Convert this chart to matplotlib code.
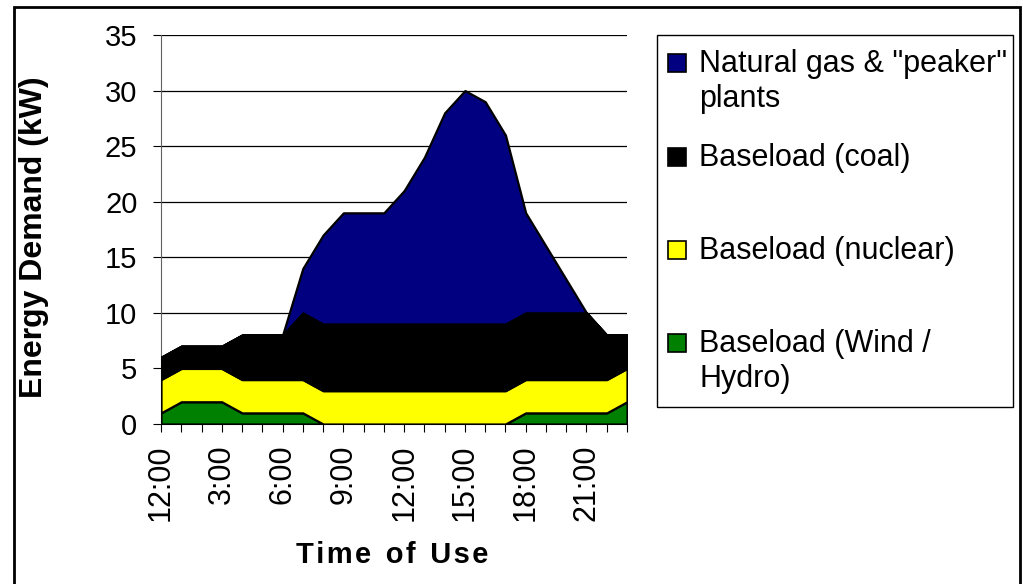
import matplotlib
matplotlib.use("Agg")
import matplotlib.pyplot as plt
from matplotlib.patches import Rectangle

plt.rcParams['font.family'] = ['Liberation Sans', 'DejaVu Sans']

# -----------------------------
# Data (kW per hour of day)
# -----------------------------
hours = list(range(24))
hour_labels = ["12:00", "3:00", "6:00", "9:00", "12:00", "15:00", "18:00", "21:00"]

wind_hydro = [1, 2, 2, 2, 1, 1, 1, 1, 0, 0, 0, 0, 0, 0, 0, 0, 0, 0, 1, 1, 1, 1, 1, 2]
nuclear    = [3, 3, 3, 3, 3, 3, 3, 3, 3, 3, 3, 3, 3, 3, 3, 3, 3, 3, 3, 3, 3, 3, 3, 3]
coal       = [2, 2, 2, 2, 4, 4, 4, 6, 6, 6, 6, 6, 6, 6, 6, 6, 6, 6, 6, 6, 6, 6, 4, 3]
gas        = [0, 0, 0, 0, 0, 0, 0, 4, 8, 10, 10, 10, 12, 15, 19, 21, 20, 17, 9, 6, 3, 0, 0, 0]

series_names = ["Natural gas & \"peaker\"\nplants", "Baseload (coal)",
                "Baseload (nuclear)", "Baseload (Wind /\nHydro)"]
series_colors = ["#000080", "#000000", "#FFFF00", "#008000"]

# -----------------------------
# Figure
# -----------------------------
fig = plt.figure(figsize=(10.23, 5.84), dpi=100)
ax = fig.add_axes([161 / 1023, 1 - 424 / 584, 466 / 1023, 389 / 584])

ax.stackplot(hours, wind_hydro, nuclear, coal, gas,
             colors=series_colors[::-1], edgecolor="black", linewidth=1.6, zorder=3)

ax.set_xlim(0, 23)
ax.set_ylim(0, 35)
ax.set_yticks(range(0, 36, 5))
ax.set_xticks(hours)
ax.set_xticklabels([hour_labels[h // 3] if h % 3 == 0 else "" for h in hours],
                   rotation=90, fontsize=22)
ax.tick_params(axis="y", labelsize=21, length=6, width=0.8, pad=11)
ax.tick_params(axis="x", length=5.5, width=0.8, pad=9)
ax.yaxis.grid(True, color="black", linewidth=0.9, zorder=1)
ax.set_axisbelow(True)
for side in ["top", "right"]:
    ax.spines[side].set_visible(False)
ax.spines["left"].set_color("#606060")
ax.spines["bottom"].set_color("#606060")

fig.text(34 / 1023, 1 - 237 / 584, "Energy Demand (kW)", rotation=90,
         ha="center", va="center", fontsize=23, fontweight="bold")
fig.text(392 / 1023, 1 - 555 / 584, "T i m e  o f  U s e".replace("  ", "\u2002").replace(" ", "\u200a"),
         ha="center", va="center", fontsize=21, fontweight="bold")

# -----------------------------
# Legend (manual, Excel-style spacing)
# -----------------------------
fig.patches.append(Rectangle((657 / 1023, 1 - 407 / 584), 356 / 1023, 372 / 584,
                             transform=fig.transFigure, facecolor="white",
                             edgecolor="black", linewidth=1.0))
legend_rows = [63, 157, 250, 343]
for name, color, row in zip(series_names, series_colors, legend_rows):
    fig.patches.append(Rectangle(((677 - 9) / 1023, 1 - (row + 9) / 584), 18 / 1023, 18 / 584,
                                 transform=fig.transFigure, facecolor=color,
                                 edgecolor="black", linewidth=1.2))
    fig.text(699 / 1023, 1 - (row - 14) / 584, name, ha="left", va="top",
             fontsize=22, linespacing=1.2)

# outer frame
fig.patches.append(Rectangle((14 / 1023, -0.05), 1006 / 1023, 1.05 - 7 / 584,
                             transform=fig.transFigure, fill=False,
                             edgecolor="black", linewidth=2))

fig.savefig("out.png", dpi=100)
